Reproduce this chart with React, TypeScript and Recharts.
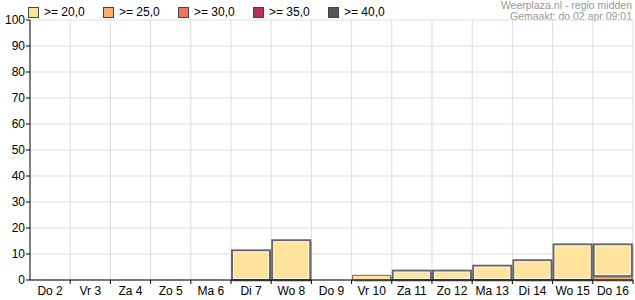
import React from 'react';
import { BarChart, Bar, XAxis, YAxis, CartesianGrid } from 'recharts';

const days = ['Do 2', 'Vr 3', 'Za 4', 'Zo 5', 'Ma 6', 'Di 7', 'Wo 8', 'Do 9', 'Vr 10', 'Za 11', 'Zo 12', 'Ma 13', 'Di 14', 'Wo 15', 'Do 16'];
const ge20 = [0, 0, 0, 0, 0, 11.4, 15.3, 0, 1.8, 3.6, 3.6, 5.5, 7.6, 13.7, 12.2];
const ge25 = [0, 0, 0, 0, 0, 0, 0, 0, 0, 0, 0, 0, 0, 0, 1.5];
const ge30 = [0, 0, 0, 0, 0, 0, 0, 0, 0, 0, 0, 0, 0, 0, 0];
const ge35 = [0, 0, 0, 0, 0, 0, 0, 0, 0, 0, 0, 0, 0, 0, 0];
const ge40 = [0, 0, 0, 0, 0, 0, 0, 0, 0, 0, 0, 0, 0, 0, 0];
const yTicks = [0, 10, 20, 30, 40, 50, 60, 70, 80, 90, 100];

const classes = [
  { key: 'ge20', label: '>= 20,0', color: '#ffe29c' },
  { key: 'ge25', label: '>= 25,0', color: '#fdae6b' },
  { key: 'ge30', label: '>= 30,0', color: '#ee7462' },
  { key: 'ge35', label: '>= 35,0', color: '#b3305f' },
  { key: 'ge40', label: '>= 40,0', color: '#555555' },
];

const data = days.map((d, i) => ({
  day: d,
  ge20: ge20[i],
  ge25: ge25[i],
  ge30: ge30[i],
  ge35: ge35[i],
  ge40: ge40[i],
}));

const W = 635;
const H = 300;
const font = 'Liberation Sans, Arial, sans-serif';

// balk met donkere rand, witte binnenrand en schaduw
const BevelBar = (props: any) => {
  const { x, y, width, height, fill } = props;
  if (!height || height <= 0.5) return null;
  return (
    <g>
      <rect x={x + 1.5} y={y + 1.5} width={width} height={height} fill="#999" />
      <rect x={x} y={y} width={width} height={height} fill={fill} stroke="#666" strokeWidth={height > 6 ? 2 : 1} />
      {height > 6 && (
        <rect x={x + 1.5} y={y + 1.5} width={Math.max(0, width - 3)} height={Math.max(0, height - 3)} fill="none" stroke="#fff" strokeWidth={1} opacity={0.8} />
      )}
    </g>
  );
};

const DayTick = (props: any) => {
  const { x, y, payload } = props;
  const band = (W - 32) / days.length;
  return (
    <g>
      <line x1={x + band / 2} y1={y - 8} x2={x + band / 2} y2={y - 4} stroke="#000" />
      <text x={x} y={y + 7} textAnchor="middle" fontSize={12} fontFamily={font} fill="#000">
        {payload.value}
      </text>
    </g>
  );
};

export default function App() {
  return (
    <div style={{ position: 'relative', width: W, height: H, background: '#fff', fontFamily: font }}>
      <style>{'body{margin:0}'}</style>
      {/* legenda */}
      <div style={{ position: 'absolute', left: 28, top: 5, display: 'flex', fontSize: 12 }}>
        {classes.map((c) => (
          <div key={c.key} style={{ display: 'flex', alignItems: 'center', width: 75 }}>
            <div style={{ width: 9, height: 9, background: c.color, border: '1px solid #444', marginRight: 5 }} />
            <span>{c.label}</span>
          </div>
        ))}
      </div>
      <div style={{ position: 'absolute', right: 3, top: 0, fontSize: 10.5, color: '#999', textAlign: 'right', lineHeight: '10.5px' }}>
        <div>Weerplaza.nl - regio midden</div>
        <div>Gemaakt: do 02 apr 09:01</div>
      </div>
      <BarChart
        width={W}
        height={H}
        data={data}
        margin={{ top: 20, right: 2, left: 0, bottom: 0 }}
        barCategoryGap={1}
      >
        <CartesianGrid
          stroke="#dddddd"
          verticalCoordinatesGenerator={({ offset }: any) =>
            days.map((_, i) => offset.left + ((i + 1) * offset.width) / days.length)
          }
        />
        <XAxis
          dataKey="day"
          height={20}
          stroke="#000"
          tickLine={false}
          tick={<DayTick />}
          interval={0}
        />
        <YAxis
          width={30}
          domain={[0, 100]}
          ticks={yTicks}
          stroke="#000"
          tickSize={4}
          tick={{ fill: '#000', fontSize: 12, fontFamily: font }}
          tickMargin={1}
        />
        <XAxis xAxisId="top" orientation="top" dataKey="day" stroke="#000" tick={false} tickLine={false} height={0} />
        <YAxis yAxisId="right" orientation="right" stroke="#000" tick={false} tickLine={false} width={0} />
        {[...classes].reverse().map((c) => (
          <Bar
            key={c.key}
            dataKey={c.key}
            stackId="a"
            fill={c.color}
            shape={<BevelBar />}
            isAnimationActive={false}
          />
        ))}
      </BarChart>
    </div>
  );
}
